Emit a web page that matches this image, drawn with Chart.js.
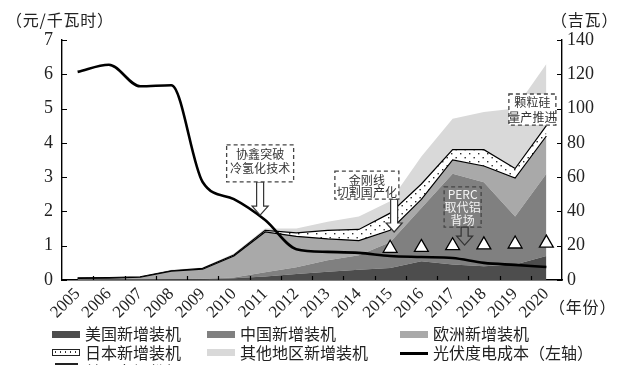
<!DOCTYPE html>
<html><head><meta charset="utf-8">
<script src="https://cdn.jsdelivr.net/npm/chart.js@4/dist/chart.umd.min.js"></script>
<style>
html,body{margin:0;padding:0;background:#fff;}
#wrap{position:relative;width:640px;height:365px;overflow:hidden;font-family:"Noto Sans CJK SC","Noto Sans",sans-serif;}
canvas{position:absolute;left:0;top:0;}
.t{position:absolute;white-space:nowrap;color:#222;font-size:16px;line-height:16px;}
.sw{position:absolute;}
</style></head>
<body><div id="wrap"><canvas id="c" width="640" height="365"></canvas>
<div class="t" style="left:6px;top:11px;letter-spacing:0.8px;">（元/千瓦时）</div>
<div class="t" style="left:551px;top:11px;letter-spacing:0.8px;">（吉瓦）</div>
<div class="t" style="left:549px;top:298px;letter-spacing:0.8px;">（年份）</div>

<div class="sw" style="left:52px;top:331px;width:28px;height:7px;background:#4d4d4d;"></div>
<div class="t" style="left:85px;top:325px;">美国新增装机</div>
<div class="sw" style="left:207px;top:331px;width:28px;height:7px;background:#808080;"></div>
<div class="t" style="left:240px;top:325px;">中国新增装机</div>
<div class="sw" style="left:400px;top:331px;width:28px;height:7px;background:#a9a9a9;"></div>
<div class="t" style="left:433px;top:325px;">欧洲新增装机</div>

<div class="sw" style="left:52px;top:349px;width:26px;height:5px;border:1px solid #222;background-color:#fff;background-image:radial-gradient(#333 0.8px,transparent 1px);background-size:5px 4px;"></div>
<div class="t" style="left:85px;top:344px;">日本新增装机</div>
<div class="sw" style="left:207px;top:349px;width:28px;height:7px;background:#d9d9d9;"></div>
<div class="t" style="left:240px;top:344px;">其他地区新增装机</div>
<div class="sw" style="left:400px;top:352px;width:28px;height:2.5px;background:#000;"></div>
<div class="t" style="left:433px;top:344px;">光伏度电成本（左轴）</div>

<div class="sw" style="left:55px;top:363px;width:23px;height:1.5px;background:#222;"></div>
<div class="t" style="left:85px;top:363px;">单晶市场份额</div>
</div>
<script>
// ---- data ----
const years = ['2005','2006','2007','2008','2009','2010','2011','2012','2013','2014','2015','2016','2017','2018','2019','2020'];
const usNew     = [0.1,0.1,0.2,0.3,0.4,1.0,2.0,3.5,4.8,6.0,7.0,11,9,8,9,14];
const chinaNew  = [0.1,0.2,0.2,0.2,0.3,0.5,2.5,4.0,6.7,8.5,15,31,53,49,28,48];
const europeNew = [0.8,0.8,1.2,4.7,5.6,12.5,23.5,18,12.5,8.5,7,5,8,9.5,22.5,22];
const japanNew  = [0.2,0.3,0.3,0.2,0.5,0.6,1.0,2.0,5.0,6.5,10,9,6,9.5,5.5,6];
const otherNew  = [0.2,0.2,0.3,0.6,0.5,0.9,1.0,2.5,5.0,7.5,7,16,18,22,35,36];
const pvCost    = [6.07,6.28,5.65,5.68,2.86,2.36,1.75,0.9,0.82,0.79,0.7,0.67,0.64,0.5,0.44,0.38];
const monoShare = [null,null,null,null,null,null,null,null,null,null,18.5,19,20,20.5,21,21.5];
const leftTicks  = [0,1,2,3,4,5,6,7];
const rightTicks = [0,20,40,60,80,100,120,140];

// ---- annotations (anchored to scale values) ----
const notes = [
  {cat:'2011', dx:-5, w:67, top:78.8, bottom:57.2, lines:['协鑫突破','冷氢化技术'], lineY:[10,24], color:'#333', bg:'#fff', arrow:{dx:-5, tip:37.9, fill:'#fff'}},
  {cat:'2014', dx:8, w:64, top:63.5, bottom:47.2, lines:['金刚线','切割国产化'], lineY:[9,21], color:'#333', bg:'#fff', arrow:{cat:'2015', dx:4, tip:28, fill:'#fff'}},
  {cat:'2017', dx:10, w:37, top:54.3, bottom:30.9, lines:['PERC','取代铝','背场'], lineY:[8,21,34], color:'#f4f4f4', bg:null, arrow:{dx:12, tip:20.4, fill:null}},
  {cat:'2020', dx:-14, w:47, top:108.5, bottom:90.4, lines:['颗粒硅','量产推进'], lineY:[8,23], color:'#333', bg:'#fff', arrow:null}
];

const cv = document.getElementById('c');
const mctx = cv.getContext('2d');
function dotPattern(){
  const t = document.createElement('canvas'); t.width = 9; t.height = 8;
  const g = t.getContext('2d');
  g.fillStyle = '#fff'; g.fillRect(0,0,9,8);
  g.fillStyle = '#2a2a2a';
  g.fillRect(1,1,1.4,1.4); g.fillRect(5.5,5,1.4,1.4);
  return mctx.createPattern(t,'repeat');
}

function hollowArrow(ctx, x, y0, y1, fill){
  const sw = 3.5, hw = 8, hl = 9;
  ctx.beginPath();
  ctx.moveTo(x - sw, y0);
  ctx.lineTo(x + sw, y0);
  ctx.lineTo(x + sw, y1 - hl);
  ctx.lineTo(x + hw, y1 - hl);
  ctx.lineTo(x, y1);
  ctx.lineTo(x - hw, y1 - hl);
  ctx.lineTo(x - sw, y1 - hl);
  ctx.closePath();
  if (fill){ ctx.fillStyle = fill; ctx.fill(); }
  ctx.strokeStyle = '#333'; ctx.lineWidth = 1.2; ctx.stroke();
}

const decor = {
  id:'decor',
  afterDatasetsDraw(chart){
    const ctx = chart.ctx, xs = chart.scales.x, yl = chart.scales.y, yr = chart.scales.y1;
    const ca = chart.chartArea;
    ctx.save();
    ctx.strokeStyle = '#000'; ctx.lineWidth = 1.2;
    ctx.beginPath();
    leftTicks.forEach(v => { const y = Math.round(yl.getPixelForValue(v)) + 0.5; ctx.moveTo(ca.left, y); ctx.lineTo(ca.left + 5, y); });
    rightTicks.forEach(v => { const y = Math.round(yr.getPixelForValue(v)) + 0.5; ctx.moveTo(ca.right, y); ctx.lineTo(ca.right - 5, y); });
    for (let i = 1; i < years.length; i++){
      const x = Math.round((xs.getPixelForValue(i - 1) + xs.getPixelForValue(i)) / 2) + 0.5;
      ctx.moveTo(x, ca.bottom); ctx.lineTo(x, ca.bottom - 4);
    }
    ctx.stroke();
    notes.forEach(n => {
      const cx = xs.getPixelForValue(years.indexOf(n.cat)) + n.dx;
      const top = yr.getPixelForValue(n.top), bot = yr.getPixelForValue(n.bottom);
      const left = cx - n.w / 2;
      if (n.arrow){
        const ax = xs.getPixelForValue(years.indexOf(n.arrow.cat || n.cat)) + n.arrow.dx;
        hollowArrow(ctx, ax, bot, yr.getPixelForValue(n.arrow.tip), n.arrow.fill);
      }
      if (n.bg){ ctx.fillStyle = n.bg; ctx.fillRect(left, top, n.w, bot - top); }
      ctx.setLineDash([4,3]); ctx.strokeStyle = '#444'; ctx.lineWidth = 1.3;
      ctx.strokeRect(left, top, n.w, bot - top);
      ctx.setLineDash([]);
      ctx.fillStyle = n.color; ctx.font = '12px "Noto Sans CJK SC"';
      ctx.textAlign = 'center'; ctx.textBaseline = 'middle';
      n.lines.forEach((s, i) => ctx.fillText(s, cx, top + n.lineY[i]));
    });
    ctx.restore();
  }
};

const area = (label, data, color, fill, border) => ({
  label, data, yAxisID:'y1', stack:'gw', fill, backgroundColor:color,
  borderColor: border ? '#000' : 'rgba(0,0,0,0)', borderWidth: border ? 1.2 : 0,
  pointRadius:0, tension:0, order:2
});

new Chart(cv, {
  type:'line',
  data:{
    labels: years,
    datasets:[
      area('美国新增装机', usNew, '#4d4d4d', 'origin', false),
      area('中国新增装机', chinaNew, '#808080', '-1', false),
      area('欧洲新增装机', europeNew, '#a9a9a9', '-1', true),
      area('日本新增装机', japanNew, dotPattern(), '-1', true),
      area('其他地区新增装机', otherNew, '#d9d9d9', '-1', false),
      {label:'光伏度电成本（左轴）', data:pvCost, yAxisID:'y', fill:false, borderColor:'#000', borderWidth:2.6, pointRadius:0, cubicInterpolationMode:'monotone', order:1},
      {label:'单晶市场份额', data:monoShare, yAxisID:'y1', stack:'tri', showLine:false, fill:false, pointStyle:'triangle', pointRadius:8,
       pointBackgroundColor:'#fff', pointBorderColor:'#000', pointBorderWidth:1.3, order:0}
    ]
  },
  options:{
    responsive:false, animation:false,
    layout:{padding:{top:40, left:0, right:0, bottom:0}},
    plugins:{legend:{display:false}, tooltip:{enabled:false}},
    scales:{
      x:{offset:true, grid:{display:false, drawTicks:false}, border:{display:true, color:'#000', width:1.4},
         ticks:{autoSkip:false, minRotation:45, maxRotation:45, padding:4, color:'#222', font:{family:'"Liberation Serif"', size:17}},
         afterFit(s){ s.height = 85; }},
      y:{position:'left', min:0, max:7, grid:{display:false, drawTicks:false}, border:{display:true, color:'#000', width:1.4},
         ticks:{stepSize:1, padding:9, color:'#222', font:{family:'"Liberation Serif"', size:18}},
         afterFit(s){ s.width = 62; }},
      y1:{position:'right', min:0, max:140, stacked:true, grid:{display:false, drawTicks:false}, border:{display:true, color:'#000', width:1.4},
         ticks:{stepSize:20, padding:5, color:'#222', font:{family:'"Liberation Serif"', size:18}},
         afterFit(s){ s.width = 78; }}
    }
  },
  plugins:[decor]
});
</script>
</body></html>
